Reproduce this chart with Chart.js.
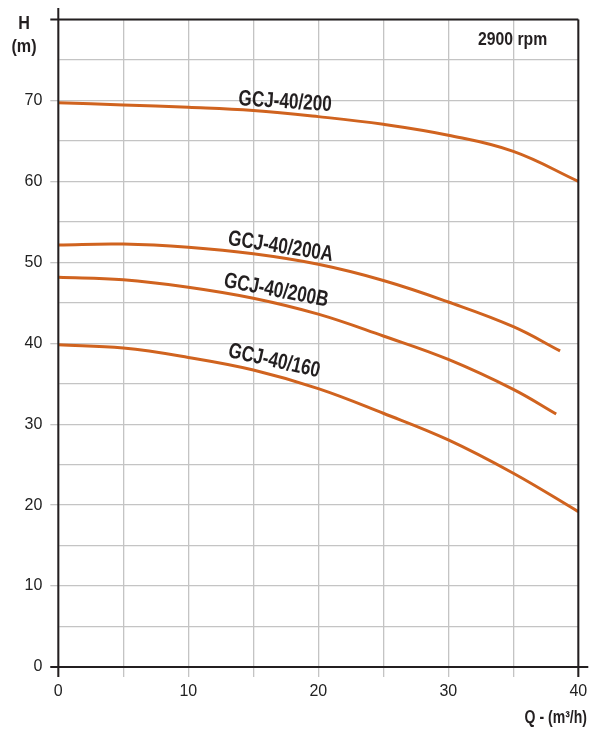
<!DOCTYPE html>
<html>
<head>
<meta charset="utf-8">
<script src="https://cdn.jsdelivr.net/npm/chart.js@4.4.1/dist/chart.umd.min.js"></script>
<style>
  html, body { margin: 0; padding: 0; background: #ffffff; }
  #wrap { width: 596px; height: 731px; position: relative; }
</style>
</head>
<body>
<div id="wrap"><canvas id="c"></canvas></div>
<script>
// ---- Data ----
const seriesNames = ["GCJ-40/200", "GCJ-40/200A", "GCJ-40/200B", "GCJ-40/160"];
const flow200  = [0, 5, 10, 15, 20, 25, 30, 35, 40];
const flow200A = [0, 5, 10, 15, 20, 25, 30, 35, 38.6];
const flow200B = [0, 5, 10, 15, 20, 25, 30, 35, 38.3];
const flow160  = [0, 5, 10, 15, 20, 25, 30, 35, 40];
const head200  = [69.7, 69.45, 69.15, 68.75, 68.0, 67.05, 65.7, 63.7, 60.0];
const head200A = [52.15, 52.25, 51.85, 51.05, 49.75, 47.75, 45.1, 42.05, 39.05];
const head200B = [48.15, 47.85, 46.93, 45.57, 43.6, 40.9, 38.0, 34.3, 31.25];
const head160  = [39.8, 39.4, 38.25, 36.7, 34.4, 31.35, 28.06, 23.94, 19.2];
const xTickLabels = [0, 10, 20, 30, 40];
const yTickLabels = [0, 10, 20, 30, 40, 50, 60, 70];
const speedLabel = "2900 rpm";
const xTitle = "Q - (m\u00B3/h)";
const yTitle = ["H", "(m)"];

const toPts = (xs, ys) => xs.map((x, i) => ({ x: x, y: ys[i] }));

const LINE = '#d0631f';
const GRID = '#c4c4c4';
const AXIS = '#231f20';
const FONT = "'Liberation Sans', Arial, sans-serif";

// label placement (style, in data coordinates)
const labelPlace = [
  { q: 17.45, h: 69.8, rot: 3.8 },
  { q: 17.1, h: 51.9, rot: 8.8 },
  { q: 16.75, h: 46.5, rot: 10.8 },
  { q: 16.6, h: 37.8, rot: 12.7 }
];

function condensedText(ctx, text, x, y, sx, align, rot) {
  ctx.save();
  ctx.translate(x, y);
  if (rot) ctx.rotate(rot * Math.PI / 180);
  ctx.scale(sx, 1);
  ctx.textAlign = align;
  ctx.fillText(text, 0, 0);
  ctx.restore();
}

const deco = {
  id: 'deco',
  afterDraw(chart) {
    const ctx = chart.ctx;
    const a = chart.chartArea;
    const xs = chart.scales.x, ys = chart.scales.y;
    ctx.save();
    // frame / axes
    ctx.strokeStyle = AXIS;
    ctx.lineWidth = 2;
    ctx.beginPath();
    ctx.moveTo(a.left, 8); ctx.lineTo(a.left, a.bottom + 10);
    ctx.moveTo(a.left - 8, a.bottom); ctx.lineTo(a.right + 10, a.bottom);
    ctx.moveTo(a.left - 8, a.top); ctx.lineTo(a.right, a.top);
    ctx.moveTo(a.right, a.top); ctx.lineTo(a.right, a.bottom + 10);
    ctx.stroke();

    // curve labels
    ctx.fillStyle = '#231f20';
    ctx.textBaseline = 'middle';
    ctx.font = 'bold 22px ' + FONT;
    seriesNames.forEach((n, i) => {
      const p = labelPlace[i];
      condensedText(ctx, n, xs.getPixelForValue(p.q), ys.getPixelForValue(p.h), 0.78, 'center', p.rot);
    });

    // axis titles
    ctx.font = 'bold 19px ' + FONT;
    condensedText(ctx, yTitle[0], 24, 24, 0.85, 'center', 0);
    condensedText(ctx, yTitle[1], 24, 47, 0.85, 'center', 0);
    condensedText(ctx, speedLabel, 478, 40, 0.83, 'left', 0);
    ctx.font = 'bold 18px ' + FONT;
    condensedText(ctx, xTitle, 587, 718, 0.78, 'right', 0);
    ctx.restore();
  }
};

const mk = (label, xs, ys) => ({
  label: label,
  data: toPts(xs, ys),
  borderColor: LINE,
  borderWidth: 3,
  pointRadius: 0,
  fill: false,
  tension: 0.4
});

new Chart(document.getElementById('c'), {
  type: 'line',
  data: {
    datasets: [
      mk(seriesNames[0], flow200, head200),
      mk(seriesNames[1], flow200A, head200A),
      mk(seriesNames[2], flow200B, head200B),
      mk(seriesNames[3], flow160, head160)
    ]
  },
  options: {
    responsive: true,
    maintainAspectRatio: false,
    animation: false,
    layout: { padding: { top: 19.5, right: 17.7, left: 0, bottom: 0 } },
    plugins: { legend: { display: false }, tooltip: { enabled: false } },
    scales: {
      x: {
        type: 'linear', min: 0, max: 40,
        afterFit(s) { s.height = 64; },
        border: { display: false },
        grid: { color: GRID, lineWidth: 1.3, tickLength: 10, tickColor: GRID },
        ticks: {
          stepSize: 5, padding: 5, color: '#222',
          font: { family: FONT, size: 16 },
          maxRotation: 0, autoSkip: false,
          callback: v => xTickLabels.includes(v) ? String(v) : ''
        }
      },
      y: {
        type: 'linear', min: 0, max: 80,
        afterFit(s) { s.width = 58.3; },
        border: { display: false },
        grid: {
          color: GRID, lineWidth: 1.3, tickLength: 8,
          tickColor: c => yTickLabels.includes(c.tick && c.tick.value) ? GRID : 'rgba(0,0,0,0)'
        },
        ticks: {
          stepSize: 5, padding: 8, color: '#222',
          font: { family: FONT, size: 16 },
          autoSkip: false,
          callback: v => yTickLabels.includes(v) ? String(v) : ''
        }
      }
    }
  },
  plugins: [deco]
});
</script>
</body>
</html>
